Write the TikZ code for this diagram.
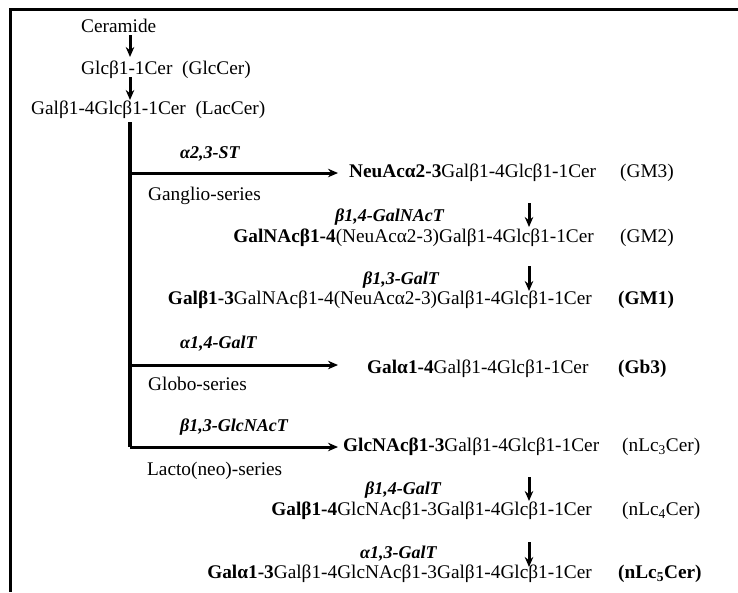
\documentclass[tikz,border=0pt]{standalone}
\usepackage{fontspec}
\setmainfont{Liberation Serif}
\usetikzlibrary{arrows.meta,positioning}

\begin{document}
\begin{tikzpicture}[x=1pt,y=-1pt,
    chain/.style={inner sep=0pt, font=\fontsize{19.3}{22}\selectfont},
    enzyme/.style={inner sep=0pt, font=\fontsize{18}{21}\selectfont\bfseries\itshape},
    conv/.style={-{Stealth[length=10pt,width=8.5pt]}, line width=3pt},
    trunk/.style={line width=3.2pt},
    ]
    \useasboundingbox (0,0) rectangle (738,592);

    % Frame (top and left edge only)
    \draw [line width=3pt] (738,9) -- (10,9) -- (10,592);

    % Ceramide to LacCer
    \node [chain, anchor=mid west] (cer) at (81,30) {Ceramide};
    \node [chain, anchor=mid west] (glccer) at (81,72) {Glcβ1-1Cer~~(GlcCer)};
    \node [chain, anchor=mid west] (laccer) at (31,112) {Galβ1-4Glcβ1-1Cer~~(LacCer)};
    \coordinate (c1s) at (130,35);
    \coordinate (c1e) at (130,57);
    \coordinate (c2s) at (130,77);
    \coordinate (c2e) at (130,100);
    \draw [conv] (c1s) -- (c1e);
    \draw [conv] (c2s) -- (c2e);

    % Branch points on the trunk
    \coordinate (top) at (130,122);
    \coordinate (b1) at (130,173);
    \coordinate (b2) at (130,365);
    \coordinate (b3) at (130,447);
    \draw [trunk] (top) -- (b3);

    % Ganglio-series
    \node [enzyme, anchor=mid west] (st) at (180,156) {α2,3-ST};
    \node [chain, anchor=mid west] (gm3) at (349,175) {\textbf{NeuAcα2-3}Galβ1-4Glcβ1-1Cer};
    \node [chain, anchor=mid west] (gm3lab) at (620,175) {(GM3)};
    \node [chain, anchor=mid west] (ganglio) at (148,198) {Ganglio-series};
    \draw [conv, shorten >=11pt] (b1) -- (gm3.west |- b1);

    \node [enzyme, anchor=mid west] (galnact) at (335,219) {β1,4-GalNAcT};
    \node [chain, anchor=mid east] (gm2) at (594,240) {\textbf{GalNAcβ1-4}(NeuAcα2-3)Galβ1-4Glcβ1-1Cer};
    \node [chain, anchor=mid west] (gm2lab) at (620,240) {(GM2)};
    \coordinate (g1s) at (529,203);
    \coordinate (g1e) at (529,227);
    \draw [conv] (g1s) -- (g1e);

    \node [enzyme, anchor=mid west] (galt13) at (363,282) {β1,3-GalT};
    \node [chain, anchor=mid east] (gm1) at (592,302) {\textbf{Galβ1-3}GalNAcβ1-4(NeuAcα2-3)Galβ1-4Glcβ1-1Cer};
    \node [chain, anchor=mid west] (gm1lab) at (618,302) {\textbf{(GM1)}};
    \coordinate (g2s) at (529,266);
    \coordinate (g2e) at (529,291);
    \draw [conv] (g2s) -- (g2e);

    % Globo-series
    \node [enzyme, anchor=mid west] (galt14) at (180,346) {α1,4-GalT};
    \node [chain, anchor=mid west] (gb3) at (367,371) {\textbf{Galα1-4}Galβ1-4Glcβ1-1Cer};
    \node [chain, anchor=mid west] (gb3lab) at (618,371) {\textbf{(Gb3)}};
    \node [chain, anchor=mid west] (globo) at (148,388) {Globo-series};
    \draw [conv, shorten >=29pt] (b2) -- (gb3.west |- b2);

    % Lacto(neo)-series
    \node [enzyme, anchor=mid west] (glcnact) at (180,429) {β1,3-GlcNAcT};
    \node [chain, anchor=mid west] (nlc3) at (343,449) {\textbf{GlcNAcβ1-3}Galβ1-4Glcβ1-1Cer};
    \node [chain, anchor=mid west] (nlc3lab) at (622,449) {(nLc\textsubscript{3}Cer)};
    \node [chain, anchor=mid west] (lacto) at (147,473) {Lacto(neo)-series};
    \draw [conv, shorten >=5pt] (b3) -- (nlc3.west |- b3);

    \node [enzyme, anchor=mid west] (galt14b) at (365,492) {β1,4-GalT};
    \node [chain, anchor=mid east] (nlc4) at (592,513) {\textbf{Galβ1-4}GlcNAcβ1-3Galβ1-4Glcβ1-1Cer};
    \node [chain, anchor=mid west] (nlc4lab) at (622,513) {(nLc\textsubscript{4}Cer)};
    \coordinate (l1s) at (529,477);
    \coordinate (l1e) at (529,501);
    \draw [conv] (l1s) -- (l1e);

    \node [enzyme, anchor=mid west] (galt13b) at (360,556) {α1,3-GalT};
    \node [chain, anchor=mid east] (nlc5) at (592,576) {\textbf{Galα1-3}Galβ1-4GlcNAcβ1-3Galβ1-4Glcβ1-1Cer};
    \node [chain, anchor=mid west] (nlc5lab) at (618,576) {\textbf{(nLc\textsubscript{5}Cer)}};
    \coordinate (l2s) at (529,542);
    \coordinate (l2e) at (529,567);
    \draw [conv] (l2s) -- (l2e);

\end{tikzpicture}
\end{document}
